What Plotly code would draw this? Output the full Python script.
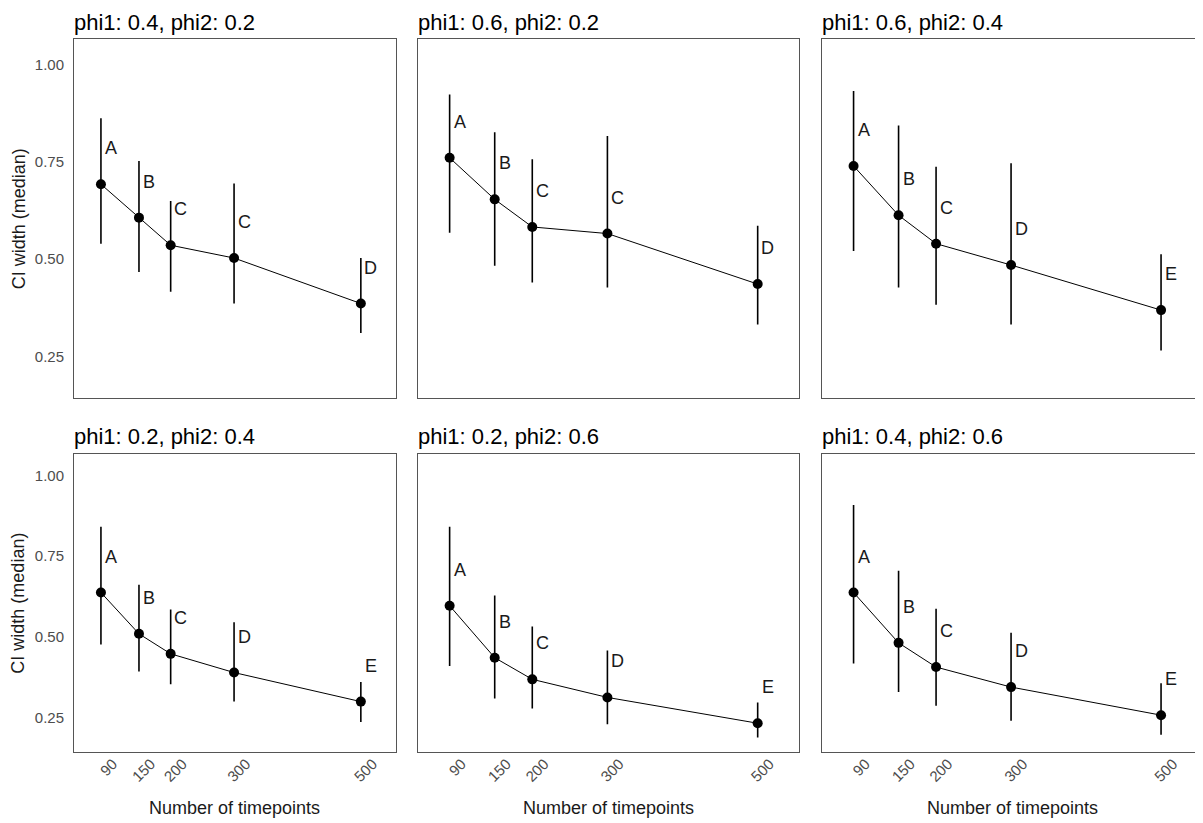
import plotly.graph_objects as go

# page is drawn inside an 8px body margin; work in page pixels and subtract it
OFF = 8
W, H = 1203 - OFF, 823 - OFF

x_vals = [90, 150, 200, 300, 500]
x_tick_labels = ["90", "150", "200", "300", "500"]
y_tick_vals = [0.25, 0.50, 0.75, 1.00]
y_tick_labels = ["0.25", "0.50", "0.75", "1.00"]

panel_titles = ["phi1: 0.4, phi2: 0.2", "phi1: 0.6, phi2: 0.2", "phi1: 0.6, phi2: 0.4",
                "phi1: 0.2, phi2: 0.4", "phi1: 0.2, phi2: 0.6", "phi1: 0.4, phi2: 0.6"]

median_1 = [0.693, 0.607, 0.536, 0.503, 0.386]
lower_1 = [0.540, 0.467, 0.416, 0.386, 0.310]
upper_1 = [0.863, 0.753, 0.650, 0.695, 0.503]
letters_1 = ["A", "B", "C", "C", "D"]

median_2 = [0.761, 0.654, 0.583, 0.566, 0.436]
lower_2 = [0.568, 0.483, 0.440, 0.427, 0.332]
upper_2 = [0.924, 0.827, 0.757, 0.817, 0.586]
letters_2 = ["A", "B", "C", "C", "D"]

median_3 = [0.740, 0.613, 0.540, 0.485, 0.369]
lower_3 = [0.521, 0.427, 0.383, 0.332, 0.265]
upper_3 = [0.933, 0.844, 0.738, 0.747, 0.513]
letters_3 = ["A", "B", "C", "D", "E"]

median_4 = [0.637, 0.509, 0.447, 0.389, 0.299]
lower_4 = [0.476, 0.392, 0.353, 0.299, 0.236]
upper_4 = [0.841, 0.661, 0.584, 0.545, 0.360]
letters_4 = ["A", "B", "C", "D", "E"]

median_5 = [0.596, 0.435, 0.368, 0.312, 0.232]
lower_5 = [0.409, 0.309, 0.278, 0.229, 0.188]
upper_5 = [0.841, 0.628, 0.532, 0.457, 0.296]
letters_5 = ["A", "B", "C", "D", "E"]

median_6 = [0.637, 0.481, 0.406, 0.344, 0.257]
lower_6 = [0.417, 0.329, 0.286, 0.240, 0.196]
upper_6 = [0.908, 0.704, 0.587, 0.512, 0.356]
letters_6 = ["A", "B", "C", "D", "E"]

medians = [median_1, median_2, median_3, median_4, median_5, median_6]
lowers = [lower_1, lower_2, lower_3, lower_4, lower_5, lower_6]
uppers = [upper_1, upper_2, upper_3, upper_4, upper_5, upper_6]
letters = [letters_1, letters_2, letters_3, letters_4, letters_5, letters_6]

FONT = "Liberation Sans, Arial, sans-serif"

# panel boxes in page pixels
cols_px = [(74, 395.7), (417.7, 799), (821.7, 1202.3)]
rows_px = [(39.3, 398.3), (454, 752.3)]
x_range = [47.5, 555]
y_range = [0.142, 1.066]


def px_x(p):
    return (p - OFF) / W


def px_y(p):
    return 1 - (p - OFF) / H


fig = go.Figure()
layout = dict(width=W, height=H, margin=dict(l=0, r=0, t=0, b=0),
              paper_bgcolor="white", plot_bgcolor="white", showlegend=False,
              font=dict(family=FONT))
annotations = []

for i in range(6):
    r, c = divmod(i, 3)
    n = i + 1
    xa = "xaxis" if n == 1 else f"xaxis{n}"
    ya = "yaxis" if n == 1 else f"yaxis{n}"
    xr = "x" if n == 1 else f"x{n}"
    yr = "y" if n == 1 else f"y{n}"
    l, rt = cols_px[c]
    t, b = rows_px[r]
    layout[xa] = dict(domain=[px_x(l), min(px_x(rt), 1.0)], range=x_range, anchor=yr,
                      showgrid=False, zeroline=False, showline=True, mirror=True,
                      linecolor="#555555", linewidth=1, ticks="",
                      tickmode="array", tickvals=x_vals, ticktext=x_tick_labels,
                      showticklabels=(r == 1), tickangle=-45,
                      tickfont=dict(size=15, color="#4d4d4d", family=FONT),
                      ticklabelshift=12, ticklabelstandoff=-4)
    layout[ya] = dict(domain=[px_y(b), px_y(t)], range=y_range, anchor=xr,
                      showgrid=False, zeroline=False, showline=True, mirror=True,
                      linecolor="#555555", linewidth=1, ticks="",
                      tickmode="array", tickvals=y_tick_vals, ticktext=y_tick_labels,
                      showticklabels=(c == 0),
                      tickfont=dict(size=15, color="#4d4d4d", family=FONT),
                      ticklabelstandoff=6)
    fig.add_trace(go.Scatter(
        x=x_vals, y=medians[i], xaxis=xr, yaxis=yr, mode="lines+markers",
        line=dict(color="black", width=1),
        marker=dict(color="black", size=10),
        error_y=dict(type="data", symmetric=False,
                     array=[u - m for u, m in zip(uppers[i], medians[i])],
                     arrayminus=[m - lo for m, lo in zip(medians[i], lowers[i])],
                     color="black", thickness=1.6, width=0),
        hoverinfo="skip"))
    for xv, m, lt in zip(x_vals, medians[i], letters[i]):
        annotations.append(dict(x=xv, y=m, xref=xr, yref=yr, text=lt, showarrow=False,
                                xshift=10, yshift=36,
                                font=dict(size=18, color="#1a1a1a", family=FONT)))
    annotations.append(dict(x=px_x(l), y=px_y(t - 17), xref="paper", yref="paper",
                            text=panel_titles[i], showarrow=False, xanchor="left",
                            yanchor="middle", xshift=-2,
                            font=dict(size=22, color="black", family=FONT)))
    if c == 0:
        annotations.append(dict(x=px_x(18.5), y=px_y((t + b) / 2), xref="paper", yref="paper",
                                text="CI width (median)", showarrow=False, textangle=-90,
                                xanchor="center", yanchor="middle",
                                font=dict(size=18, color="#1a1a1a", family=FONT)))
    if r == 1:
        annotations.append(dict(x=px_x((l + rt) / 2), y=px_y(808), xref="paper", yref="paper",
                                text="Number of timepoints", showarrow=False,
                                xanchor="center", yanchor="middle",
                                font=dict(size=18, color="#1a1a1a", family=FONT)))

layout["annotations"] = annotations
fig.update_layout(**layout)
fig.write_html("out.html")
